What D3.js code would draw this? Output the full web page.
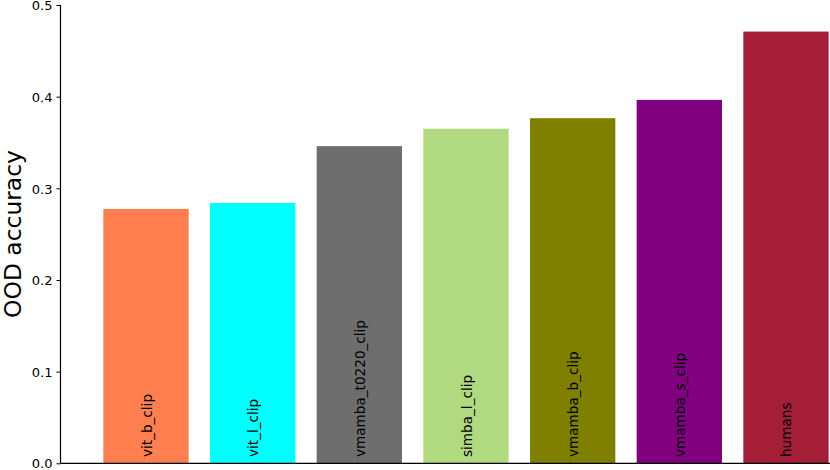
<!DOCTYPE html>
<html>
<head>
<meta charset="utf-8">
<script src="https://cdn.jsdelivr.net/npm/d3@7"></script>
<style>
  body { margin: 0; background: #fff; }
  svg { display: block; font-family: "DejaVu Sans", sans-serif; }
</style>
</head>
<body>
<div id="chart"></div>
<script>
// Data
const models = ["vit_b_clip", "vit_l_clip", "vmamba_t0220_clip", "simba_l_clip",
                "vmamba_b_clip", "vmamba_s_clip", "humans"];
const oodAccuracy = [0.2775, 0.284, 0.346, 0.365, 0.3765, 0.3965, 0.471];
const barColors = ["#ff7f50", "#00ffff", "#6e6e6e", "#b0d980", "#808000", "#800080", "#a51e37"];
const yTicks = [0.0, 0.1, 0.2, 0.3, 0.4, 0.5];

const width = 830, height = 470;
const svg = d3.select("#chart").append("svg")
  .attr("width", width)
  .attr("height", height);

const axisX = 60.5;
const xScale = d3.scaleBand()
  .domain(models)
  .range([92.67, 839.33])
  .paddingInner(0.2)
  .paddingOuter(0.1);

const yScale = d3.scaleLinear()
  .domain([0, 0.5])
  .range([463.3, 5]);

// bars
svg.selectAll("rect.bar")
  .data(models)
  .enter().append("rect")
  .attr("class", "bar")
  .attr("x", d => xScale(d))
  .attr("y", (d, i) => yScale(oodAccuracy[i]))
  .attr("width", xScale.bandwidth())
  .attr("height", (d, i) => yScale(0) - yScale(oodAccuracy[i]))
  .attr("fill", (d, i) => barColors[i]);

// rotated labels inside the bars
svg.selectAll("text.bar-label")
  .data(models)
  .enter().append("text")
  .attr("class", "bar-label")
  .attr("transform", d => `translate(${xScale(d) + xScale.bandwidth() / 2 + 0.5},457) rotate(-90)`)
  .attr("text-anchor", "start")
  .attr("dominant-baseline", "central")
  .attr("font-size", "13.6px")
  .attr("fill", "#000")
  .text(d => d);

// y axis
const yAxis = d3.axisLeft(yScale)
  .tickValues(yTicks)
  .tickFormat(d3.format(".1f"))
  .tickSize(4)
  .tickPadding(4);

const gy = svg.append("g")
  .attr("transform", `translate(${axisX},0)`)
  .call(yAxis);
gy.select(".domain").remove();
gy.selectAll(".tick line").attr("stroke", "#000").attr("stroke-width", 1);
gy.selectAll(".tick text")
  .attr("font-family", "DejaVu Sans, sans-serif")
  .attr("font-size", "13px")
  .attr("dy", "0.36em")
  .attr("fill", "#000");

// spines: left and bottom only
svg.append("line")
  .attr("x1", axisX).attr("x2", axisX)
  .attr("y1", yScale(0.5)).attr("y2", yScale(0))
  .attr("stroke", "#000").attr("stroke-width", 1.2);
svg.append("line")
  .attr("x1", axisX).attr("x2", width)
  .attr("y1", yScale(0)).attr("y2", yScale(0))
  .attr("stroke", "#000").attr("stroke-width", 1.2);

// y label
svg.append("text")
  .attr("transform", `translate(21,234) rotate(-90)`)
  .attr("text-anchor", "middle")
  .attr("font-size", "23.4px")
  .attr("fill", "#000")
  .text("OOD accuracy");
</script>
</body>
</html>
